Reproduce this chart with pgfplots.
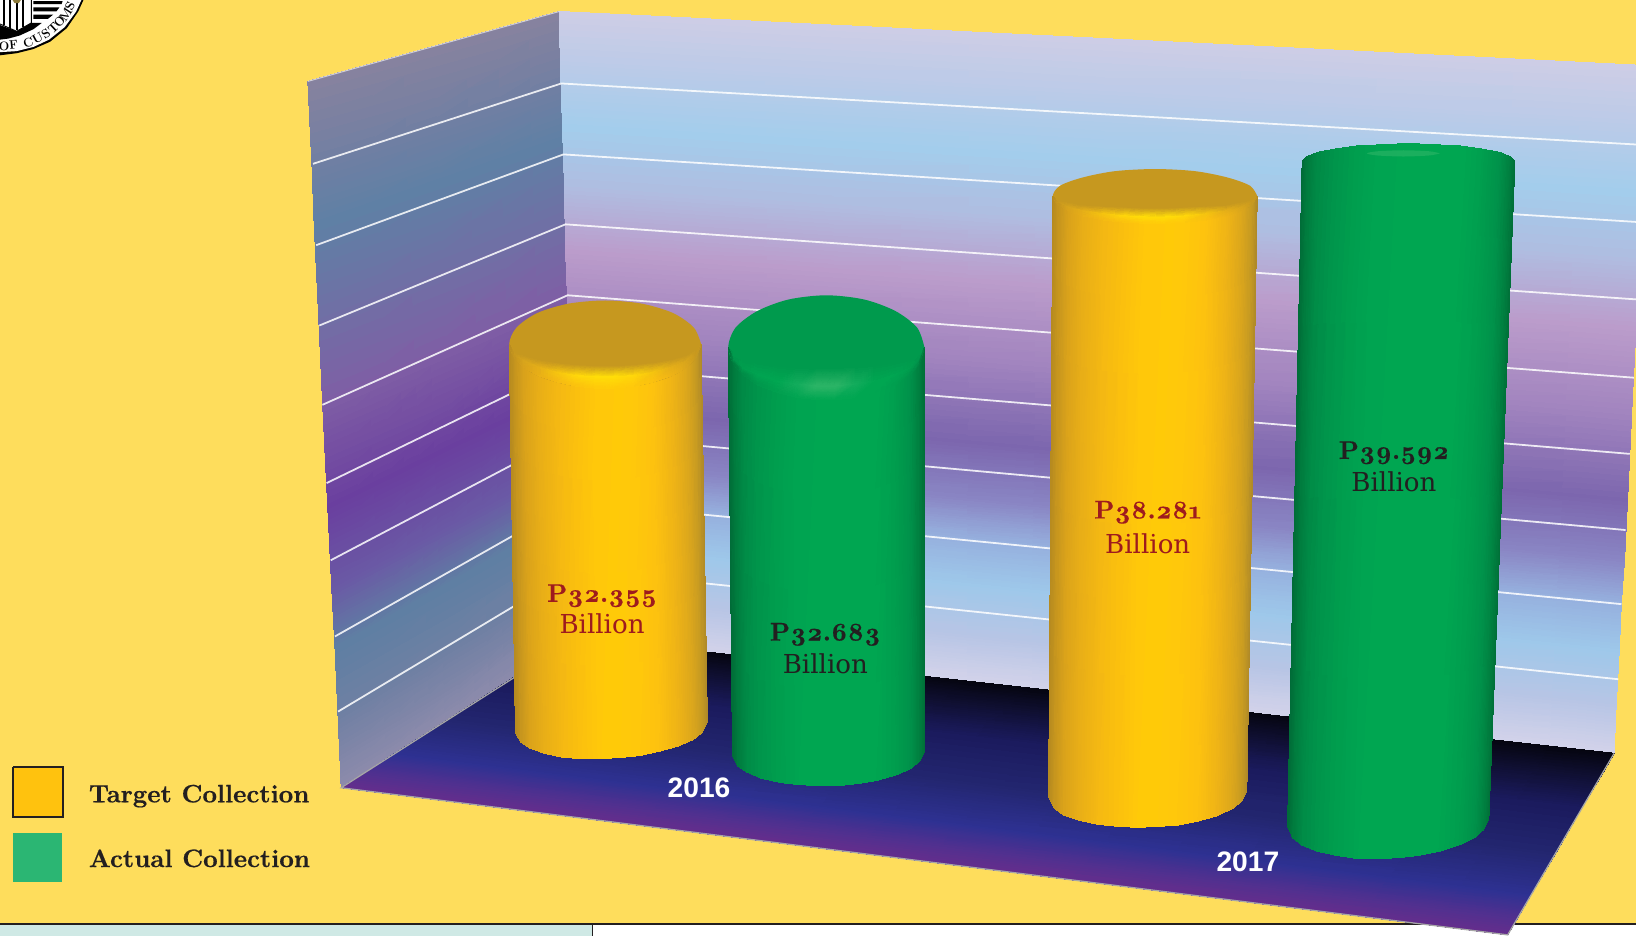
\documentclass[border=0pt]{standalone}
\usepackage{fontspec}
\usepackage{pgfplots}
\pgfplotsset{compat=1.18}
\newfontfamily\arialb{Liberation Sans}[BoldFont={Liberation Sans Bold}]
\newfontfamily\dvs{DejaVu Serif}
\newfontface\lmval{lmroman10-bold.otf}[Numbers=OldStyle,FakeBold=0.5]
\newfontface\lmleg{lmroman10-bold.otf}[FakeBold=0.5]
\definecolor{bgy}{HTML}{FEDD5C}
\definecolor{lw0}{HTML}{86829F}\definecolor{lw1}{HTML}{6F7FA3}\definecolor{lw2}{HTML}{5F80A5}\definecolor{lw3}{HTML}{6F70A5}\definecolor{lw4}{HTML}{7F5EA5}
\definecolor{lw5}{HTML}{6A3F9F}\definecolor{lw6}{HTML}{6A5AA5}\definecolor{lw7}{HTML}{5F7FA3}\definecolor{lw8}{HTML}{7080A3}\definecolor{lw9}{HTML}{8E8BAC}
\definecolor{bw0}{HTML}{CDCDE6}\definecolor{bw1}{HTML}{BCCBE8}\definecolor{bw2}{HTML}{A3CDEC}\definecolor{bw3}{HTML}{B0BCE0}\definecolor{bw4}{HTML}{BB9CCB}\definecolor{bw5}{HTML}{A285BF}
\definecolor{bw6}{HTML}{7C66AE}\definecolor{bw7}{HTML}{8A86C4}\definecolor{bw8}{HTML}{96B0DE}\definecolor{bw9}{HTML}{9EC8EA}\definecolor{bwa}{HTML}{B8C5E5}\definecolor{bwb}{HTML}{D3D3EA}
\definecolor{fl0}{HTML}{050510}\definecolor{fl1}{HTML}{0F0F30}\definecolor{fl2}{HTML}{1B1B5E}\definecolor{fl3}{HTML}{232670}\definecolor{fl4}{HTML}{2E3192}\definecolor{fl5}{HTML}{50308F}\definecolor{fl6}{HTML}{662D8C}
\definecolor{ya}{HTML}{B58A20}\definecolor{yb}{HTML}{C4941E}\definecolor{yc}{HTML}{D9A21B}\definecolor{yd}{HTML}{E8AE17}\definecolor{ye}{HTML}{F4B813}\definecolor{yf}{HTML}{FBC00E}\definecolor{yg}{HTML}{FFC80A}
\definecolor{yh}{HTML}{FFCA08}\definecolor{yi}{HTML}{FFC80B}\definecolor{yj}{HTML}{FDC20F}\definecolor{yk}{HTML}{EFB416}\definecolor{yl}{HTML}{DCA71C}\definecolor{ym}{HTML}{C69A22}\definecolor{yn}{HTML}{B08A28}
\definecolor{ga}{HTML}{006B37}\definecolor{gb}{HTML}{007A3D}\definecolor{gc}{HTML}{008A46}\definecolor{gd}{HTML}{00954B}\definecolor{ge}{HTML}{009E4E}\definecolor{gf}{HTML}{00A451}\definecolor{gg}{HTML}{00A651}
\definecolor{gk}{HTML}{009E4E}\definecolor{gl}{HTML}{00924A}\definecolor{gm}{HTML}{008040}\definecolor{gn}{HTML}{007038}
\definecolor{za}{HTML}{C9991E}\definecolor{zb}{HTML}{D8A51C}\definecolor{zc}{HTML}{E4AE18}\definecolor{zd}{HTML}{F5C40F}\definecolor{ze}{HTML}{FFD60A}\definecolor{zf}{HTML}{FFDD08}
\definecolor{capy}{HTML}{C6981F}\definecolor{capg}{HTML}{009A4D}\definecolor{ha}{HTML}{12AC5C}\definecolor{hb}{HTML}{2DB567}
\definecolor{lblred}{HTML}{9E1B1E}\definecolor{ink}{HTML}{231F20}
\pgfplotsset{meshy/.style={patch,patch type=rectangle,shader=interp,mesh/color input=explicit,point meta=explicit symbolic,patch table={#1}},
cylpatch/.style={meshy={0 1 15 14\\1 2 16 15\\2 3 17 16\\3 4 18 17\\4 5 19 18\\5 6 20 19\\6 7 21 20\\7 8 22 21\\8 9 23 22\\9 10 24 23\\10 11 25 24\\11 12 26 25\\12 13 27 26\\}},
shoulder/.style={meshy={0 1 15 14\\1 2 16 15\\2 3 17 16\\3 4 18 17\\4 5 19 18\\5 6 20 19\\6 7 21 20\\7 8 22 21\\8 9 23 22\\9 10 24 23\\10 11 25 24\\11 12 26 25\\12 13 27 26\\14 15 29 28\\15 16 30 29\\16 17 31 30\\17 18 32 31\\18 19 33 32\\19 20 34 33\\20 21 35 34\\21 22 36 35\\22 23 37 36\\23 24 38 37\\24 25 39 38\\25 26 40 39\\26 27 41 40\\}}}
\newcommand{\vallab}[5]{\node[text=#5,align=center] at (axis cs:#1,#2) {\lmval\fontsize{24.5}{25}\selectfont P#3};
\node[text=#5] at (axis cs:#1,#4) {\dvs\fontsize{25}{25}\selectfont Billion};}
\newcommand{\sealch}[4]{\node[rotate=#3,inner sep=0pt] at (axis cs:#1,#2) {\fontsize{12}{12}\selectfont\bfseries #4};}
\begin{document}
\begin{tikzpicture}
\begin{axis}[at={(0,0)},anchor=south west,scale only axis,width=1568pt,height=897pt,xmin=0,xmax=1568,ymin=0,ymax=897,y dir=reverse,hide axis,clip=true]
% background and bottom strip
\addplot[fill=bgy,draw=none] coordinates {(0,0)(1568,0)(1568,897)(0,897)};
\addplot[fill={rgb,255:red,207;green,233;blue,229},draw=none] coordinates {(0,885)(568,885)(568,897)(0,897)};
\addplot[fill=white,draw=none] coordinates {(568,885)(1568,885)(1568,897)(568,897)};
\addplot[ink,line width=1.4pt] coordinates {(0,885.5)(1568,885.5)};
\addplot[ink,line width=1.4pt] coordinates {(568,885)(568,897)};
% seal
\addplot[fill=black,draw=none] coordinates {(0,0)(80,0)(75,11)(64,27)(48,40)(32,47)(16,51)(0,53)};
\addplot[fill=white,draw=none] coordinates {(0,0)(78,0)(73,11)(62,26)(47,38)(32,45)(16,49)(0,50)};
\addplot[fill=black,draw=none] coordinates {(32,1)(60,1)(59,4)(32,4)};
\addplot[fill=black,draw=none] coordinates {(32,7)(57,7)(54,11)(32,11)};
\addplot[fill=black,draw=none] coordinates {(32,14)(51,14)(46,18)(32,18)};
\addplot[fill=black,draw=none] coordinates {(30,22)(40,22)(32,28)(19,34)(8,37)(0,38)(0,24)(16,30)};
\addplot[black,line width=0.9pt] coordinates {(30,0)(30,22)(16,30)(0,23)};
\addplot[fill=black,draw=none] coordinates {(3,0)(5,0)(5,24)(3,24)};
\addplot[fill=black,draw=none] coordinates {(9,0)(11,0)(11,27)(9,27)};
\addplot[fill=black,draw=none] coordinates {(15,3)(17,3)(17,29)(15,29)};
\addplot[fill=black,draw=none] coordinates {(21,0)(23,0)(23,26)(21,26)};
\addplot[fill={rgb,255:red,140;green,122;blue,58},draw=none] coordinates {(12,0)(20,0)(18,3)(14,3)};
\sealch{4}{44}{-2}{O}\sealch{13}{43}{6}{F}\sealch{27}{41}{19}{C}\sealch{36}{37}{28}{U}\sealch{44}{32}{35}{S}\sealch{51}{27}{43}{T}\sealch{57}{21}{50}{O}\sealch{63}{14}{57}{M}\sealch{67}{6}{64}{S}
% left wall
\addplot[meshy={0 1 3 2\\2 3 5 4\\4 5 7 6\\6 7 9 8\\8 9 11 10\\10 11 13 12\\12 13 15 14\\14 15 17 16\\16 17 19 18\\}] table[meta=c,row sep=\\] {
x y c\\
295 78 color=lw0\\
536 11 color=lw0\\
299 159 color=lw1\\
538 83 color=lw1\\
301 213 color=lw2\\
539 131 color=lw2\\
305 295 color=lw3\\
541 203 color=lw3\\
309 383 color=lw4\\
544 281 color=lw4\\
314 484 color=lw5\\
546 371 color=lw5\\
318 565 color=lw6\\
548 443 color=lw6\\
321 620 color=lw7\\
550 491 color=lw7\\
324 687 color=lw8\\
551 551 color=lw8\\
327 755 color=lw9\\
553 611 color=lw9\\
};
% back wall
\addplot[meshy={0 1 3 2\\2 3 5 4\\4 5 7 6\\6 7 9 8\\8 9 11 10\\10 11 13 12\\12 13 15 14\\14 15 17 16\\16 17 19 18\\18 19 21 20\\20 21 23 22\\}] table[meta=c,row sep=\\] {
x y c\\
536 11 color=bw0\\
1581 63 color=bw0\\
537 59 color=bw1\\
1578 116 color=bw1\\
539 119 color=bw2\\
1575 182 color=bw2\\
541 179 color=bw3\\
1571 248 color=bw3\\
542 239 color=bw4\\
1568 313 color=bw4\\
545 311 color=bw5\\
1564 393 color=bw5\\
547 389 color=bw6\\
1560 478 color=bw6\\
548 443 color=bw7\\
1557 537 color=bw7\\
549 479 color=bw8\\
1554 577 color=bw8\\
550 521 color=bw9\\
1552 623 color=bw9\\
552 569 color=bwa\\
1549 676 color=bwa\\
553 611 color=bwb\\
1547 722 color=bwb\\
};
% grid lines
\addplot[white,opacity=0.85,line width=1.7pt] coordinates {(300,157)(538,80)(1577,139)};
\addplot[white,opacity=0.85,line width=1.7pt] coordinates {(303,235)(540,148)(1573,213)};
\addplot[white,opacity=0.85,line width=1.7pt] coordinates {(306,312)(542,215)(1569,287)};
\addplot[white,opacity=0.85,line width=1.7pt] coordinates {(309,388)(544,283)(1566,362)};
\addplot[white,opacity=0.85,line width=1.7pt] coordinates {(313,463)(546,350)(1562,435)};
\addplot[white,opacity=0.85,line width=1.7pt] coordinates {(317,537)(547,416)(1558,508)};
\addplot[white,opacity=0.85,line width=1.7pt] coordinates {(321,610)(549,481)(1554,579)};
\addplot[white,opacity=0.85,line width=1.7pt] coordinates {(324,682)(551,546)(1551,651)};
\addplot[white,opacity=0.6,line width=1pt] coordinates {(295,78)(536,11)};
% floor
\addplot[meshy={0 1 3 2\\2 3 5 4\\4 5 7 6\\6 7 9 8\\8 9 11 10\\10 11 13 12\\}] table[meta=c,row sep=\\] {
x y c\\
553 611 color=fl0\\
1547 722 color=fl0\\
526 628 color=fl1\\
1535 743 color=fl1\\
485 654 color=fl2\\
1516 774 color=fl2\\
429 690 color=fl3\\
1491 818 color=fl3\\
377 723 color=fl4\\
1467 858 color=fl4\\
350 741 color=fl5\\
1455 879 color=fl5\\
327 755 color=fl6\\
1445 896 color=fl6\\
};
\addplot[gray!70!white,line width=1.2pt] coordinates {(1547,722)(1445,896)(327,755)(553,611)};
% cylinder 1 (2016 target)
\addplot[cylpatch] table[meta=c,row sep=\\] {
x y c\\
488 330 color=ya\\
493 343 color=yb\\
502 352 color=yc\\
516 360 color=yd\\
534 366 color=ye\\
552 370 color=yf\\
571 372 color=yg\\
589 372 color=yh\\
608 370 color=yi\\
626 366 color=yj\\
644 360 color=yk\\
658 352 color=yl\\
667 343 color=ym\\
672 330 color=yn\\
494 702 color=ya\\
499 711 color=yb\\
508 717 color=yc\\
522 722 color=yd\\
540 726 color=ye\\
558 727 color=yf\\
577 727 color=yg\\
595 726 color=yh\\
614 724 color=yi\\
632 720 color=yj\\
650 715 color=yk\\
664 709 color=yl\\
673 702 color=ym\\
678 692 color=yn\\
};
\addplot[fill=capy,draw=none,smooth] coordinates {(672,330)(665,346)(645,360)(615,369)(580,372)(545,369)(515,360)(495,346)(488,330)(495,314)(515,300)(545,291)(580,288)(615,291)(645,300)(665,314)(672,330)};
\addplot[shoulder] table[meta=c,row sep=\\] {
x y c\\
488 330 color=capy\\
493 336 color=capy\\
502 341 color=capy\\
516 345 color=capy\\
534 348 color=capy\\
552 350 color=capy\\
571 351 color=capy\\
589 351 color=capy\\
608 350 color=capy\\
626 348 color=capy\\
644 345 color=capy\\
658 341 color=capy\\
667 336 color=capy\\
672 330 color=capy\\
488 330 color=za\\
493 340 color=za\\
502 346 color=zb\\
516 352 color=zc\\
534 357 color=zd\\
552 360 color=ze\\
571 361 color=zf\\
589 361 color=zf\\
608 360 color=ze\\
626 357 color=zd\\
644 352 color=zc\\
658 346 color=zb\\
667 340 color=za\\
672 330 color=za\\
488 330 color=ya\\
493 343 color=yb\\
502 352 color=yc\\
516 360 color=yd\\
534 366 color=ye\\
552 370 color=yf\\
571 372 color=yg\\
589 372 color=yh\\
608 370 color=yi\\
626 366 color=yj\\
644 360 color=yk\\
658 352 color=yl\\
667 343 color=ym\\
672 330 color=yn\\
};
% cylinder 2 (2016 actual)
\addplot[cylpatch] table[meta=c,row sep=\\] {
x y c\\
698 333 color=ga\\
703 349 color=gb\\
712 359 color=gc\\
726 369 color=gd\\
745 376 color=ge\\
764 381 color=gf\\
783 383 color=gg\\
801 383 color=gg\\
820 381 color=gg\\
839 376 color=gg\\
858 369 color=gk\\
872 359 color=gl\\
881 349 color=gm\\
886 333 color=gn\\
702 724 color=ga\\
707 734 color=gb\\
716 740 color=gc\\
730 746 color=gd\\
748 750 color=ge\\
766 752 color=gf\\
785 753 color=gg\\
803 753 color=gg\\
822 751 color=gg\\
840 748 color=gg\\
858 743 color=gk\\
872 737 color=gl\\
881 730 color=gm\\
886 720 color=gn\\
};
\addplot[fill=capg,draw=none,smooth] coordinates {(886,333)(879,352)(858,368)(828,379)(792,383)(756,379)(726,368)(705,352)(698,333)(705,314)(726,298)(756,287)(792,283)(828,287)(858,298)(879,314)(886,333)};
\addplot[shoulder] table[meta=c,row sep=\\] {
x y c\\
698 333 color=capg\\
703 339 color=capg\\
712 344 color=capg\\
726 347 color=capg\\
745 350 color=capg\\
764 352 color=capg\\
783 353 color=capg\\
801 353 color=capg\\
820 352 color=capg\\
839 350 color=capg\\
858 347 color=capg\\
872 344 color=capg\\
881 339 color=capg\\
886 333 color=capg\\
698 333 color=gc\\
703 345 color=gd\\
712 353 color=ge\\
726 359 color=gf\\
745 365 color=gg\\
764 368 color=ha\\
783 370 color=hb\\
801 370 color=hb\\
820 368 color=ha\\
839 365 color=gg\\
858 359 color=gf\\
872 353 color=ge\\
881 345 color=gd\\
886 333 color=gc\\
698 333 color=ga\\
703 349 color=gb\\
712 359 color=gc\\
726 369 color=gd\\
745 376 color=ge\\
764 381 color=gf\\
783 383 color=gg\\
801 383 color=gg\\
820 381 color=gg\\
839 376 color=gg\\
858 369 color=gk\\
872 359 color=gl\\
881 349 color=gm\\
886 333 color=gn\\
};
% cylinder 3 (2017 target)
\addplot[cylpatch] table[meta=c,row sep=\\] {
x y c\\
1009 188 color=ya\\
1014 196 color=yb\\
1024 202 color=yc\\
1038 207 color=yd\\
1058 211 color=ye\\
1078 213 color=yf\\
1097 214 color=yg\\
1117 214 color=yh\\
1136 213 color=yi\\
1156 211 color=yj\\
1176 207 color=yk\\
1190 202 color=yl\\
1200 196 color=ym\\
1205 188 color=yn\\
1005 764 color=ya\\
1010 774 color=yb\\
1019 781 color=yc\\
1034 786 color=yd\\
1052 790 color=ye\\
1072 792 color=yf\\
1090 793 color=yg\\
1110 792 color=yh\\
1128 791 color=yi\\
1148 787 color=yj\\
1166 782 color=yk\\
1181 775 color=yl\\
1190 768 color=ym\\
1195 758 color=yn\\
};
\addplot[fill=capy,draw=none,smooth] coordinates {(1205,188)(1198,198)(1176,206)(1145,212)(1107,214)(1069,212)(1038,206)(1016,198)(1009,188)(1016,178)(1038,170)(1069,164)(1107,162)(1145,164)(1176,170)(1198,178)(1205,188)};
\addplot[shoulder] table[meta=c,row sep=\\] {
x y c\\
1009 188 color=capy\\
1014 192 color=capy\\
1024 194 color=capy\\
1038 197 color=capy\\
1058 198 color=capy\\
1078 199 color=capy\\
1097 200 color=capy\\
1117 200 color=capy\\
1136 199 color=capy\\
1156 198 color=capy\\
1176 197 color=capy\\
1190 194 color=capy\\
1200 192 color=capy\\
1205 188 color=capy\\
1009 188 color=za\\
1014 194 color=za\\
1024 199 color=zb\\
1038 202 color=zc\\
1058 205 color=zd\\
1078 207 color=ze\\
1097 208 color=zf\\
1117 208 color=zf\\
1136 207 color=ze\\
1156 205 color=zd\\
1176 202 color=zc\\
1190 199 color=zb\\
1200 194 color=za\\
1205 188 color=za\\
1009 188 color=ya\\
1014 196 color=yb\\
1024 202 color=yc\\
1038 207 color=yd\\
1058 211 color=ye\\
1078 213 color=yf\\
1097 214 color=yg\\
1117 214 color=yh\\
1136 213 color=yi\\
1156 211 color=yj\\
1176 207 color=yk\\
1190 202 color=yl\\
1200 196 color=ym\\
1205 188 color=yn\\
};
% cylinder 4 (2017 actual)
\addplot[cylpatch] table[meta=c,row sep=\\] {
x y c\\
1248 155 color=ga\\
1253 150 color=gb\\
1263 146 color=gc\\
1279 143 color=gd\\
1299 140 color=ge\\
1319 139 color=gf\\
1340 138 color=gg\\
1360 138 color=gg\\
1381 139 color=gg\\
1401 140 color=gg\\
1421 143 color=gk\\
1437 146 color=gl\\
1447 150 color=gm\\
1452 155 color=gn\\
1234 792 color=ga\\
1239 803 color=gb\\
1248 810 color=gc\\
1263 816 color=gd\\
1282 820 color=ge\\
1302 823 color=gf\\
1321 823 color=gg\\
1340 822 color=gg\\
1359 820 color=gg\\
1379 816 color=gg\\
1398 810 color=gk\\
1413 803 color=gl\\
1422 795 color=gm\\
1427 784 color=gn\\
};
\addplot[fill=hb,draw=none,smooth,fill opacity=0.6] coordinates {(1380,147)(1370,149)(1345,150)(1320,149)(1310,147)(1320,145)(1345,144)(1370,145)(1380,147)};
% legend swatches
\addplot[fill={rgb,255:red,255;green,194;blue,14},draw=ink,line width=2pt] coordinates {(12.5,735.5)(60,735.5)(60,783)(12.5,783)(12.5,735.5)};
\addplot[fill={rgb,255:red,43;green,182;blue,115},draw=none] coordinates {(12,798)(59,798)(59,845)(12,845)};
% texts
\node[anchor=base west,text=ink,inner sep=0pt] at (axis cs:85,769) {\lmleg\fontsize{24.2}{25}\selectfont Target Collection};
\node[anchor=base west,text=ink,inner sep=0pt] at (axis cs:85,831) {\lmleg\fontsize{24.2}{25}\selectfont Actual Collection};
\vallab{577}{571}{32.355}{598}{lblred}
\vallab{791}{608}{32.683}{636}{ink}
\vallab{1100}{491}{38.281}{521}{lblred}
\vallab{1336}{434}{39.592}{462}{ink}
\node[text=white] at (axis cs:670,755) {\arialb\fontsize{27}{27}\selectfont\bfseries 2016};
\node[text=white] at (axis cs:1196,826) {\arialb\fontsize{27}{27}\selectfont\bfseries 2017};
\end{axis}
\end{tikzpicture}
\end{document}
